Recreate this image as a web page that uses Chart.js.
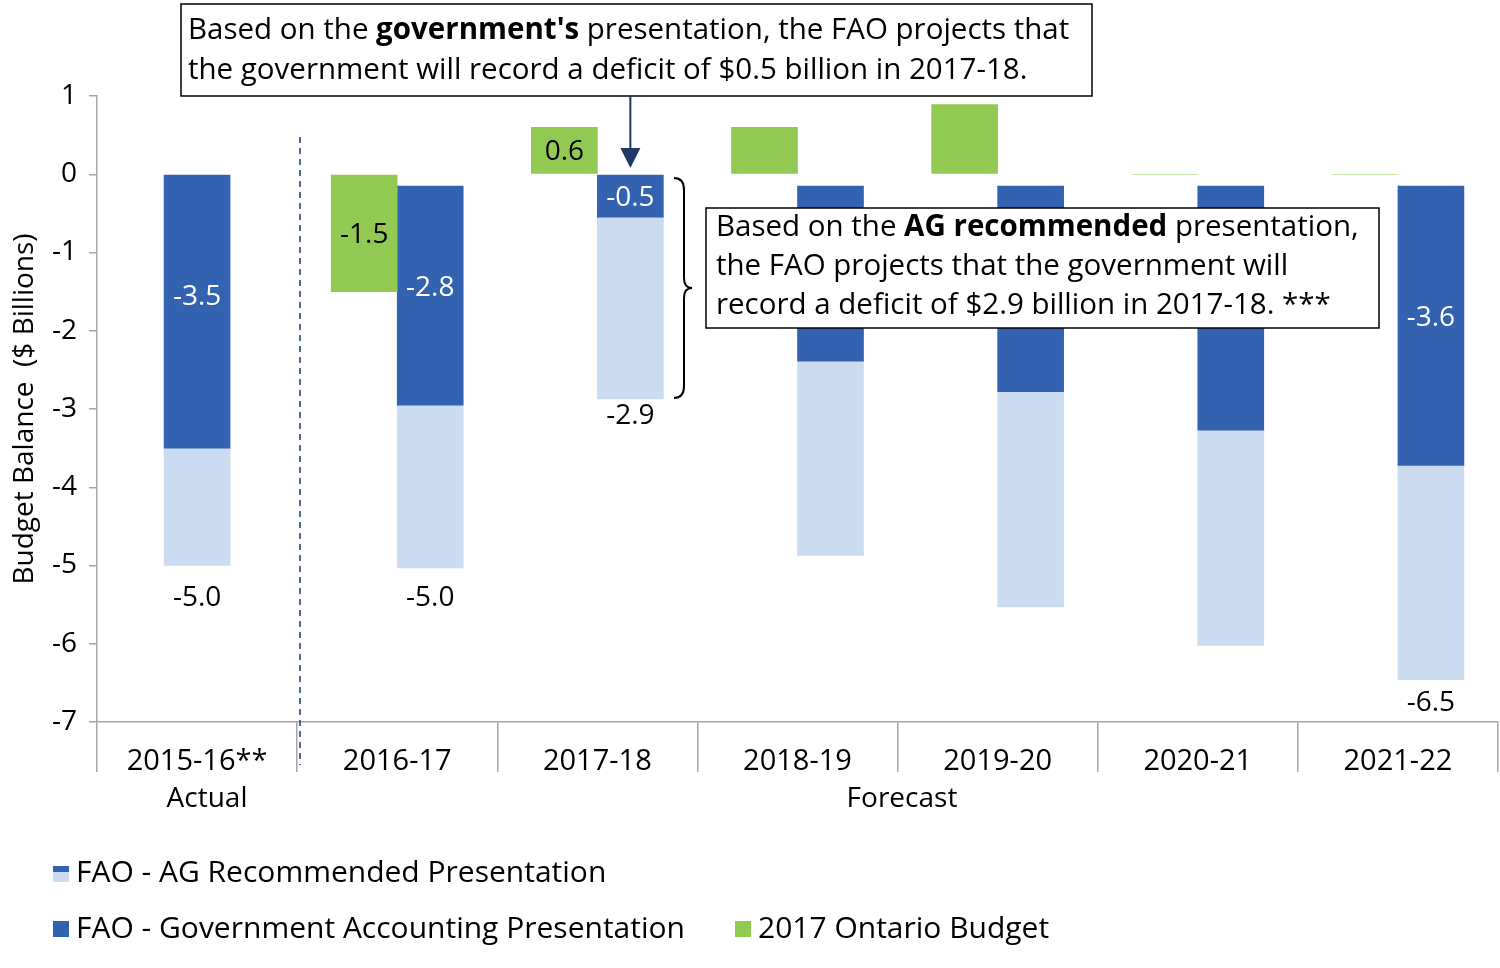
<!DOCTYPE html>
<html>
<head>
<meta charset="utf-8">
<script src="https://cdn.jsdelivr.net/npm/chart.js@4"></script>
<style>
  body { margin: 0; background: #fff; }
  #wrap { width: 1500px; height: 968px; }
</style>
</head>
<body>
<div id="wrap"><canvas id="barChart"></canvas></div>
<script>
const FONT = "'Open Sans', 'Noto Sans', sans-serif";
const DARK = '#3362b0', LIGHT = '#cbdcf1', GREEN = '#92c953';

const labels = ['2015-16**', '2016-17', '2017-18', '2018-19', '2019-20', '2020-21', '2021-22'];
// floating bars: [top, bottom]
const govData = [[0, -3.5], [-0.15, -2.95], [0, -0.55], [-0.15, -2.39], [-0.15, -2.78], [-0.15, -3.27], [-0.15, -3.72]];
const agData = [[-3.5, -5.0], [-2.95, -5.03], [-0.55, -2.87], [-2.39, -4.87], [-2.78, -5.53], [-3.27, -6.02], [-3.72, -6.46]];
const budgetData = [null, [0, -1.5], [0, 0.6], [0, 0.6], [0, 0.89], [0, 0], [0, 0]];

// value labels: [dataset, index, text, where, offset]
const valueLabels = [
  [0, 0, '-3.5', 'in', -15], [1, 0, '-5.0', 'below', 33],
  [2, 1, '-1.5', 'in', 2], [0, 1, '-2.8', 'in', -8], [1, 1, '-5.0', 'below', 30],
  [2, 2, '0.6', 'in', 2], [0, 2, '-0.5', 'in', 2], [1, 2, '-2.9', 'below', 17],
  [0, 6, '-3.6', 'in', -8], [1, 6, '-6.5', 'below', 23]
];

function richText(ctx, parts, x, y, size) {
  parts.forEach(p => {
    ctx.font = (p[1] ? 'bold ' : '') + size + 'px ' + FONT;
    ctx.fillText(p[0], x, y);
    x += ctx.measureText(p[0]).width;
  });
}

const extras = {
  id: 'extras',
  afterDatasetsDraw(chart) {
    const ctx = chart.ctx;
    ctx.save();
    ctx.textBaseline = 'middle';
    ctx.textAlign = 'center';
    ctx.font = '28px ' + FONT;
    valueLabels.forEach(([ds, i, txt, where, off]) => {
      const bar = chart.getDatasetMeta(ds).data[i];
      if (where === 'in') {
        ctx.fillStyle = ds === 0 ? '#fff' : '#000';
        ctx.fillText(txt, bar.x, (bar.y + bar.base) / 2 + off);
      } else {
        ctx.fillStyle = '#000';
        ctx.fillText(txt, bar.x, Math.max(bar.y, bar.base) + off);
      }
    });

    // dashed separator
    ctx.strokeStyle = '#1f3864';
    ctx.lineWidth = 1.5;
    ctx.setLineDash([6, 5]);
    ctx.beginPath();
    ctx.moveTo(300, 137); ctx.lineTo(300, 765);
    ctx.stroke();
    ctx.setLineDash([]);

    // second row x labels
    ctx.fillStyle = '#000';
    ctx.fillText('Actual', 207, 799);
    ctx.fillText('Forecast', 902, 799);

    // top annotation box
    ctx.fillStyle = '#fff';
    ctx.fillRect(181, 4, 911, 92);
    ctx.strokeStyle = '#000';
    ctx.lineWidth = 1.5;
    ctx.strokeRect(181, 4, 911, 92);
    ctx.fillStyle = '#000';
    ctx.textAlign = 'left';
    richText(ctx, [['Based on the ', false], ["government's", true], [' presentation, the FAO projects that', false]], 188, 31, 29.5);
    richText(ctx, [['the government will record a deficit of $0.5 billion in 2017-18.', false]], 188, 71, 29.5);

    // arrow
    const ax = chart.getDatasetMeta(0).data[2].x;
    ctx.strokeStyle = '#1f3864';
    ctx.fillStyle = '#1f3864';
    ctx.lineWidth = 2;
    ctx.beginPath(); ctx.moveTo(ax, 96); ctx.lineTo(ax, 155); ctx.stroke();
    ctx.beginPath(); ctx.moveTo(ax - 10, 148); ctx.lineTo(ax + 10, 148); ctx.lineTo(ax, 168); ctx.closePath(); ctx.fill();

    // brace
    ctx.strokeStyle = '#000';
    ctx.lineWidth = 2;
    const bx = 674, t = 178, b = 398, m = (t + b) / 2;
    ctx.beginPath();
    ctx.moveTo(bx, t);
    ctx.quadraticCurveTo(bx + 10, t, bx + 10, t + 12);
    ctx.lineTo(bx + 10, m - 10);
    ctx.quadraticCurveTo(bx + 10, m, bx + 18, m);
    ctx.quadraticCurveTo(bx + 10, m, bx + 10, m + 10);
    ctx.lineTo(bx + 10, b - 12);
    ctx.quadraticCurveTo(bx + 10, b, bx, b);
    ctx.stroke();

    // AG annotation box
    ctx.fillStyle = '#fff';
    ctx.fillRect(706, 208, 673, 120);
    ctx.strokeStyle = '#000';
    ctx.lineWidth = 1.5;
    ctx.strokeRect(706, 208, 673, 120);
    ctx.fillStyle = '#000';
    richText(ctx, [['Based on the ', false], ['AG recommended', true], [' presentation,', false]], 716, 228, 29.5);
    richText(ctx, [['the FAO projects that the government will', false]], 716, 267, 29.5);
    richText(ctx, [['record a deficit of $2.9 billion in 2017-18. ***', false]], 716, 306, 29.5);

    // legend
    ctx.font = '30px ' + FONT;
    ctx.fillStyle = LIGHT; ctx.fillRect(53, 866, 16, 16);
    ctx.fillStyle = DARK; ctx.fillRect(53, 866, 16, 6);
    ctx.fillStyle = '#000'; ctx.fillText('FAO - AG Recommended Presentation', 76, 873);
    ctx.fillStyle = DARK; ctx.fillRect(53, 921, 16, 16);
    ctx.fillStyle = '#000'; ctx.fillText('FAO - Government Accounting Presentation', 76, 929);
    ctx.fillStyle = GREEN; ctx.fillRect(735, 921, 16, 16);
    ctx.fillStyle = '#000'; ctx.fillText('2017 Ontario Budget', 758, 929);
    ctx.restore();
  }
};

new Chart(document.getElementById('barChart').getContext('2d'), {
  type: 'bar',
  data: {
    labels: labels,
    datasets: [
      { label: 'FAO - Government Accounting Presentation', data: govData, backgroundColor: DARK, stack: 'fao', skipNull: true, barThickness: 66, order: 1 },
      { label: 'FAO - AG Recommended Presentation', data: agData, backgroundColor: LIGHT, stack: 'fao', skipNull: true, barThickness: 66, order: 2 },
      { label: '2017 Ontario Budget', data: budgetData, backgroundColor: GREEN, stack: 'budget', skipNull: true, barThickness: 66, order: 0 }
    ]
  },
  options: {
    responsive: true,
    maintainAspectRatio: false,
    animation: false,
    layout: { padding: { top: 96, right: 2, left: 8 } },
    plugins: { legend: { display: false }, tooltip: { enabled: false } },
    scales: {
      x: {
        stacked: true,
        afterFit: s => { s.height = 246; },
        grid: { offset: true, drawOnChartArea: false, tickLength: 50, color: '#a6a6a6', lineWidth: 1.5 },
        border: { color: '#a6a6a6', width: 1.5 },
        ticks: { color: '#000', font: { family: FONT, size: 29 }, padding: -28, maxRotation: 0 }
      },
      y: {
        stacked: false,
        min: -7, max: 1,
        afterFit: s => { s.width = 89; },
        grid: { drawOnChartArea: false, tickLength: 8, color: '#a6a6a6', lineWidth: 1.5 },
        border: { color: '#a6a6a6', width: 1.5 },
        ticks: { stepSize: 1, color: '#000', font: { family: FONT, size: 28 }, padding: 12 },
        title: { display: true, text: 'Budget Balance  ($ Billions)', color: '#000', font: { family: FONT, size: 28 }, padding: 0 }
      }
    }
  },
  plugins: [extras]
});
</script>
</body>
</html>
